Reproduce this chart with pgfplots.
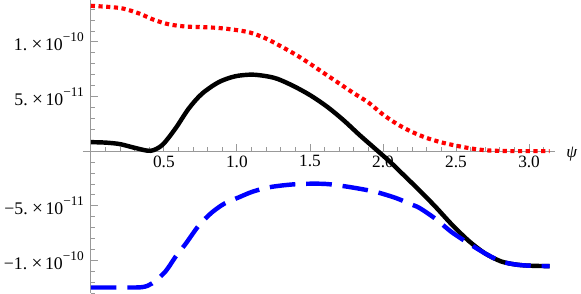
\documentclass[border=0pt]{standalone}
\usepackage{fontspec}
\setmainfont{Liberation Serif}
\usepackage{pgfplots}
\pgfplotsset{compat=1.18}
\newcommand{\sci}[2]{#1.\hspace{0.25em}{\fontsize{19.5}{20}\selectfont\texttimes}\hspace{0.14em}10\raisebox{9.5pt}{\fontsize{13.5}{14}\selectfont #2}}
\begin{document}
\begin{tikzpicture}
\begin{axis}[
  name=a,
  scale only axis,
  width=478.6pt, height=297pt,
  axis lines=middle,
  xmin=-0.054, xmax=3.18,
  ymin=-1.30e-10, ymax=1.383e-10,
  axis line style={-, gray!80, line width=0.8pt},
  every tick/.style={gray!80, line width=0.8pt},
  tick align=inside,
  major tick length=7.5pt,
  minor tick length=4.5pt,
  xtick={0.5,1,1.5,2,2.5,3},
  xticklabels={0.5,1.0,1.5,2.0,2.5,3.0},
  minor xtick={0.1,0.2,0.3,0.4,0.6,0.7,0.8,0.9,1.1,1.2,1.3,1.4,1.6,1.7,1.8,1.9,2.1,2.2,2.3,2.4,2.6,2.7,2.8,2.9,3.1},
  ytick={-1e-10,-5e-11,5e-11,1e-10},
  yticklabels={\sci{−1}{−10},\sci{−5}{−11},\sci{5}{−11},\sci{1}{−10}},
  minor ytick={-1.3e-10,-1.2e-10,-1.1e-10,-9e-11,-8e-11,-7e-11,-6e-11,-4e-11,-3e-11,-2e-11,-1e-11,1e-11,2e-11,3e-11,4e-11,6e-11,7e-11,8e-11,9e-11,1.1e-10,1.2e-10,1.3e-10},
  scaled y ticks=false,
  tick label style={font=\fontsize{17.5}{19}\selectfont, text=black},
  xticklabel style={anchor=north, yshift=-1pt},
  yticklabel style={anchor=east, inner sep=0pt, xshift=-7pt, font=\fontsize{18}{20}\selectfont},
  xlabel={\makebox[14pt][l]{\textit{ψ}}},
  xlabel style={at={(axis cs:3.18,0)}, anchor=west, inner sep=0pt, xshift=11pt, yshift=-3pt, font=\fontsize{17.5}{20}\selectfont},
  clip=false,
]
\addplot[red, line width=4.2pt, dash pattern=on 4.2pt off 3.6pt, smooth] coordinates {
(0,13.3e-11) (0.12,13.2e-11) (0.22,13.05e-11) (0.33,12.6e-11) (0.435,12.0e-11) (0.536,11.6e-11) (0.65,11.4e-11) (0.76,11.35e-11) (0.874,11.27e-11) (0.986,11.1e-11) (1.09,10.85e-11) (1.2,10.3e-11) (1.3,9.6e-11) (1.4,8.85e-11) (1.5,8.0e-11) (1.6,7.1e-11) (1.7,6.2e-11) (1.8,5.3e-11) (1.9,4.45e-11) (2.0,3.35e-11) (2.1,2.45e-11) (2.2,1.75e-11) (2.3,1.2e-11) (2.4,0.8e-11) (2.5,0.5e-11) (2.6,0.25e-11) (2.7,0.08e-11) (2.8,0.02e-11) (2.9,0) (3.1416,0)
};
\addplot[black, line width=4.5pt, smooth] coordinates {
(0,0.82e-11) (0.1,0.78e-11) (0.2,0.64e-11) (0.31,0.27e-11) (0.41,0.03e-11) (0.49,0.57e-11) (0.58,2.08e-11) (0.67,3.89e-11) (0.76,5.24e-11) (0.874,6.3e-11) (0.986,6.84e-11) (1.1,7.0e-11) (1.2,6.86e-11) (1.28,6.6e-11) (1.39,5.94e-11) (1.505,5.09e-11) (1.62,4.04e-11) (1.73,2.83e-11) (1.84,1.47e-11) (1.955,0.12e-11) (2.05,-1.0e-11) (2.135,-2.1e-11) (2.25,-3.6e-11) (2.36,-5.1e-11) (2.47,-6.7e-11) (2.59,-8.25e-11) (2.70,-9.37e-11) (2.81,-10.1e-11) (2.92,-10.4e-11) (3.03,-10.5e-11) (3.1416,-10.52e-11)
};
\addplot[blue, line width=4.5pt, dash pattern=on 26pt off 11pt, smooth] coordinates {
(0,-12.48e-11) (0.2,-12.48e-11) (0.35,-12.45e-11) (0.42,-12.1e-11) (0.51,-11.03e-11) (0.58,-9.67e-11) (0.65,-8.47e-11) (0.74,-6.8e-11) (0.83,-5.6e-11) (0.92,-4.76e-11) (1.01,-4.25e-11) (1.11,-3.7e-11) (1.234,-3.28e-11) (1.39,-3.04e-11) (1.53,-2.98e-11) (1.64,-3.04e-11) (1.80,-3.35e-11) (1.955,-3.75e-11) (2.09,-4.3e-11) (2.19,-4.86e-11) (2.25,-5.2e-11) (2.36,-6.2e-11) (2.47,-7.41e-11) (2.59,-8.47e-11) (2.70,-9.37e-11) (2.81,-10.1e-11) (2.92,-10.4e-11) (3.03,-10.5e-11) (3.1416,-10.52e-11)
};
\end{axis}
\pgfresetboundingbox
\useasboundingbox ([xshift=-84pt]a.south west) rectangle ([xshift=26pt]a.north east);
\end{tikzpicture}
\end{document}
